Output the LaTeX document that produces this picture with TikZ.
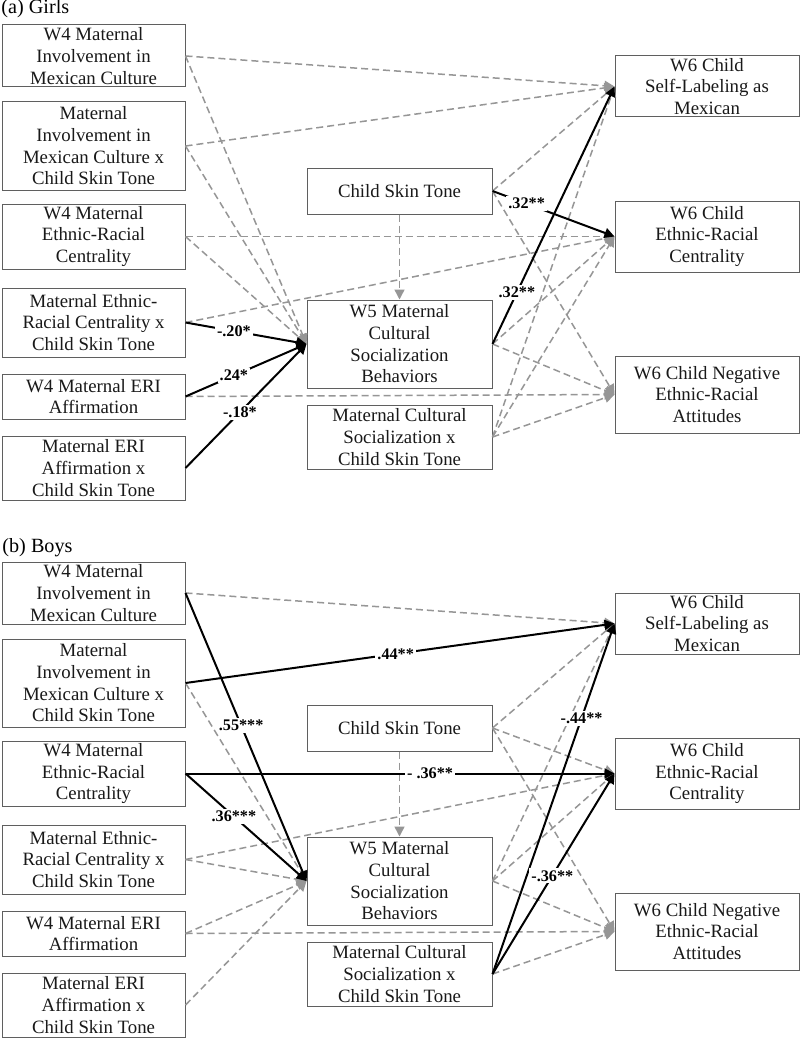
\documentclass[tikz,border=0pt]{standalone}
\usepackage{fontspec}
\setmainfont{Liberation Serif}
\usetikzlibrary{arrows.meta}
\definecolor{dg}{RGB}{150,150,150}
\definecolor{bd}{RGB}{95,95,95}
\newcommand\panelnodes[2]{%
 \node[lbox, minimum height=31pt] (#1l1) at (93.5,{56+#2}) {W4 Maternal\\Involvement in\\Mexican Culture};
 \node[lbox, minimum height=44pt] (#1l2) at (93.5,{146+#2}) {Maternal\\Involvement in\\Mexican Culture x\\Child Skin Tone};
 \node[lbox, minimum height=32.5pt] (#1l3) at (93.5,{236.5+#2}) {W4 Maternal\\Ethnic-Racial\\Centrality};
 \node[lbox, minimum height=34.5pt] (#1l4) at (93.5,{322.5+#2}) {Maternal Ethnic-\\Racial Centrality x\\Child Skin Tone};
 \node[lbox, minimum height=22.5pt] (#1l5) at (93.5,{396.5+#2}) {W4 Maternal ERI\\Affirmation};
 \node[lbox, minimum height=32pt] (#1l6) at (93.5,{468+#2}) {Maternal ERI\\Affirmation x\\Child Skin Tone};
 \node[mbox, minimum height=23pt] (#1cst) at (399.5,{191+#2}) {Child Skin Tone};
 \node[mbox, minimum height=44pt] (#1w5) at (399.5,{344+#2}) {W5 Maternal\\Cultural\\Socialization\\Behaviors};
 \node[mbox, minimum height=32pt] (#1mcs) at (399.5,{437+#2}) {Maternal Cultural\\Socialization x\\Child Skin Tone};
 \node[rbox, minimum height=30.5pt] (#1r1) at (707,{86.5+#2}) {W6 Child\\Self-Labeling as\\Mexican};
 \node[rbox, minimum height=35.5pt] (#1r2) at (707,{236.5+#2}) {W6 Child\\Ethnic-Racial\\Centrality};
 \node[rbox, minimum height=38.5pt] (#1r3) at (707,{394.5+#2}) {W6 Child Negative\\Ethnic-Racial\\Attitudes};
}
\begin{document}
\begin{tikzpicture}[x=0.5pt,y=-0.5pt,
  box/.style={draw=bd, line width=0.5pt, inner sep=0pt, align=center,
    font=\fontsize{9.4}{10.85}\selectfont, text=black!90},
  lbox/.style={box, minimum width=91.5pt},
  mbox/.style={box, minimum width=92.5pt},
  rbox/.style={box, minimum width=92pt},
  ns/.style={dg, dash pattern=on 3.5pt off 2pt, line width=0.75pt,
    -{Triangle[length=5pt,width=5pt]}},
  sig/.style={black, line width=1pt, -{Triangle[length=5pt,width=5pt]}},
  lab/.style={fill=white, inner sep=1pt, font=\fontsize{8.1}{9}\selectfont\bfseries, text=black},
  ttl/.style={anchor=base west, inner sep=0pt, font=\fontsize{10.1}{12}\selectfont},
]
\useasboundingbox[fill=white] (0,0) rectangle (800,1038);
\node[ttl] (ta) at (1,14) {(a) Girls};
\node[ttl] (tb) at (2,552) {(b) Boys};
\panelnodes{a}{0}
\panelnodes{b}{537}
% Girls
\draw[ns] (al1.east) -- (ar1.west);
\draw[ns] (al1.east) -- (aw5.west);
\draw[ns] (al2.east) -- (ar1.west);
\draw[ns] (al2.east) -- (aw5.west);
\draw[ns] (al3.east) -- (ar2.west);
\draw[ns] (al3.east) -- (aw5.west);
\draw[ns] (al4.east) -- (ar2.west);
\draw[ns] (al5.east) -- (ar3.west);
\draw[ns] (acst.south) -- (aw5.north);
\draw[ns] (acst.east) -- (ar1.west);
\draw[ns] (acst.east) -- (ar3.west);
\draw[ns] (aw5.east) -- (ar2.west);
\draw[ns] (aw5.east) -- (ar3.west);
\draw[ns] (amcs.east) -- (ar1.west);
\draw[ns] (amcs.east) -- (ar2.west);
\draw[ns] (amcs.east) -- (ar3.west);
\draw[sig] (al4.east) -- node[lab,pos=0.4]{-.20*} (aw5.west);
\draw[sig] (al5.east) -- node[lab,pos=0.4]{.24*} (aw5.west);
\draw[sig] (al6.east) -- node[lab,pos=0.45]{-.18*} (aw5.west);
\draw[sig] (acst.east) -- node[lab,pos=0.28]{.32**} (ar2.west);
\draw[sig] (aw5.east) -- node[lab,pos=0.2]{.32**} (ar1.west);
% Boys
\draw[ns] (bl1.east) -- (br1.west);
\draw[ns] (bl2.east) -- (bw5.west);
\draw[ns] (bl4.east) -- (br2.west);
\draw[ns] (bl4.east) -- (bw5.west);
\draw[ns] (bl5.east) -- (bw5.west);
\draw[ns] (bl5.east) -- (br3.west);
\draw[ns] (bl6.east) -- (bw5.west);
\draw[ns] (bcst.south) -- (bw5.north);
\draw[ns] (bcst.east) -- (br1.west);
\draw[ns] (bcst.east) -- (br2.west);
\draw[ns] (bcst.east) -- (br3.west);
\draw[ns] (bw5.east) -- (br1.west);
\draw[ns] (bw5.east) -- (br2.west);
\draw[ns] (bw5.east) -- (br3.west);
\draw[ns] (bmcs.east) -- (br3.west);
\draw[sig] (bl1.east) -- node[lab,pos=0.46]{.55***} (bw5.west);
\draw[sig] (bl2.east) -- node[lab,pos=0.49]{.44**} (br1.west);
\draw[sig] (bl3.east) -- node[lab,pos=0.57]{- .36**} (br2.west);
\draw[sig] (bl3.east) -- node[lab,pos=0.4]{.36***} (bw5.west);
\draw[sig] (bmcs.east) -- node[lab,pos=0.73]{-.44**} (br1.west);
\draw[sig] (bmcs.east) -- node[lab,pos=0.49]{-.36**} (br2.west);
\end{tikzpicture}
\end{document}
